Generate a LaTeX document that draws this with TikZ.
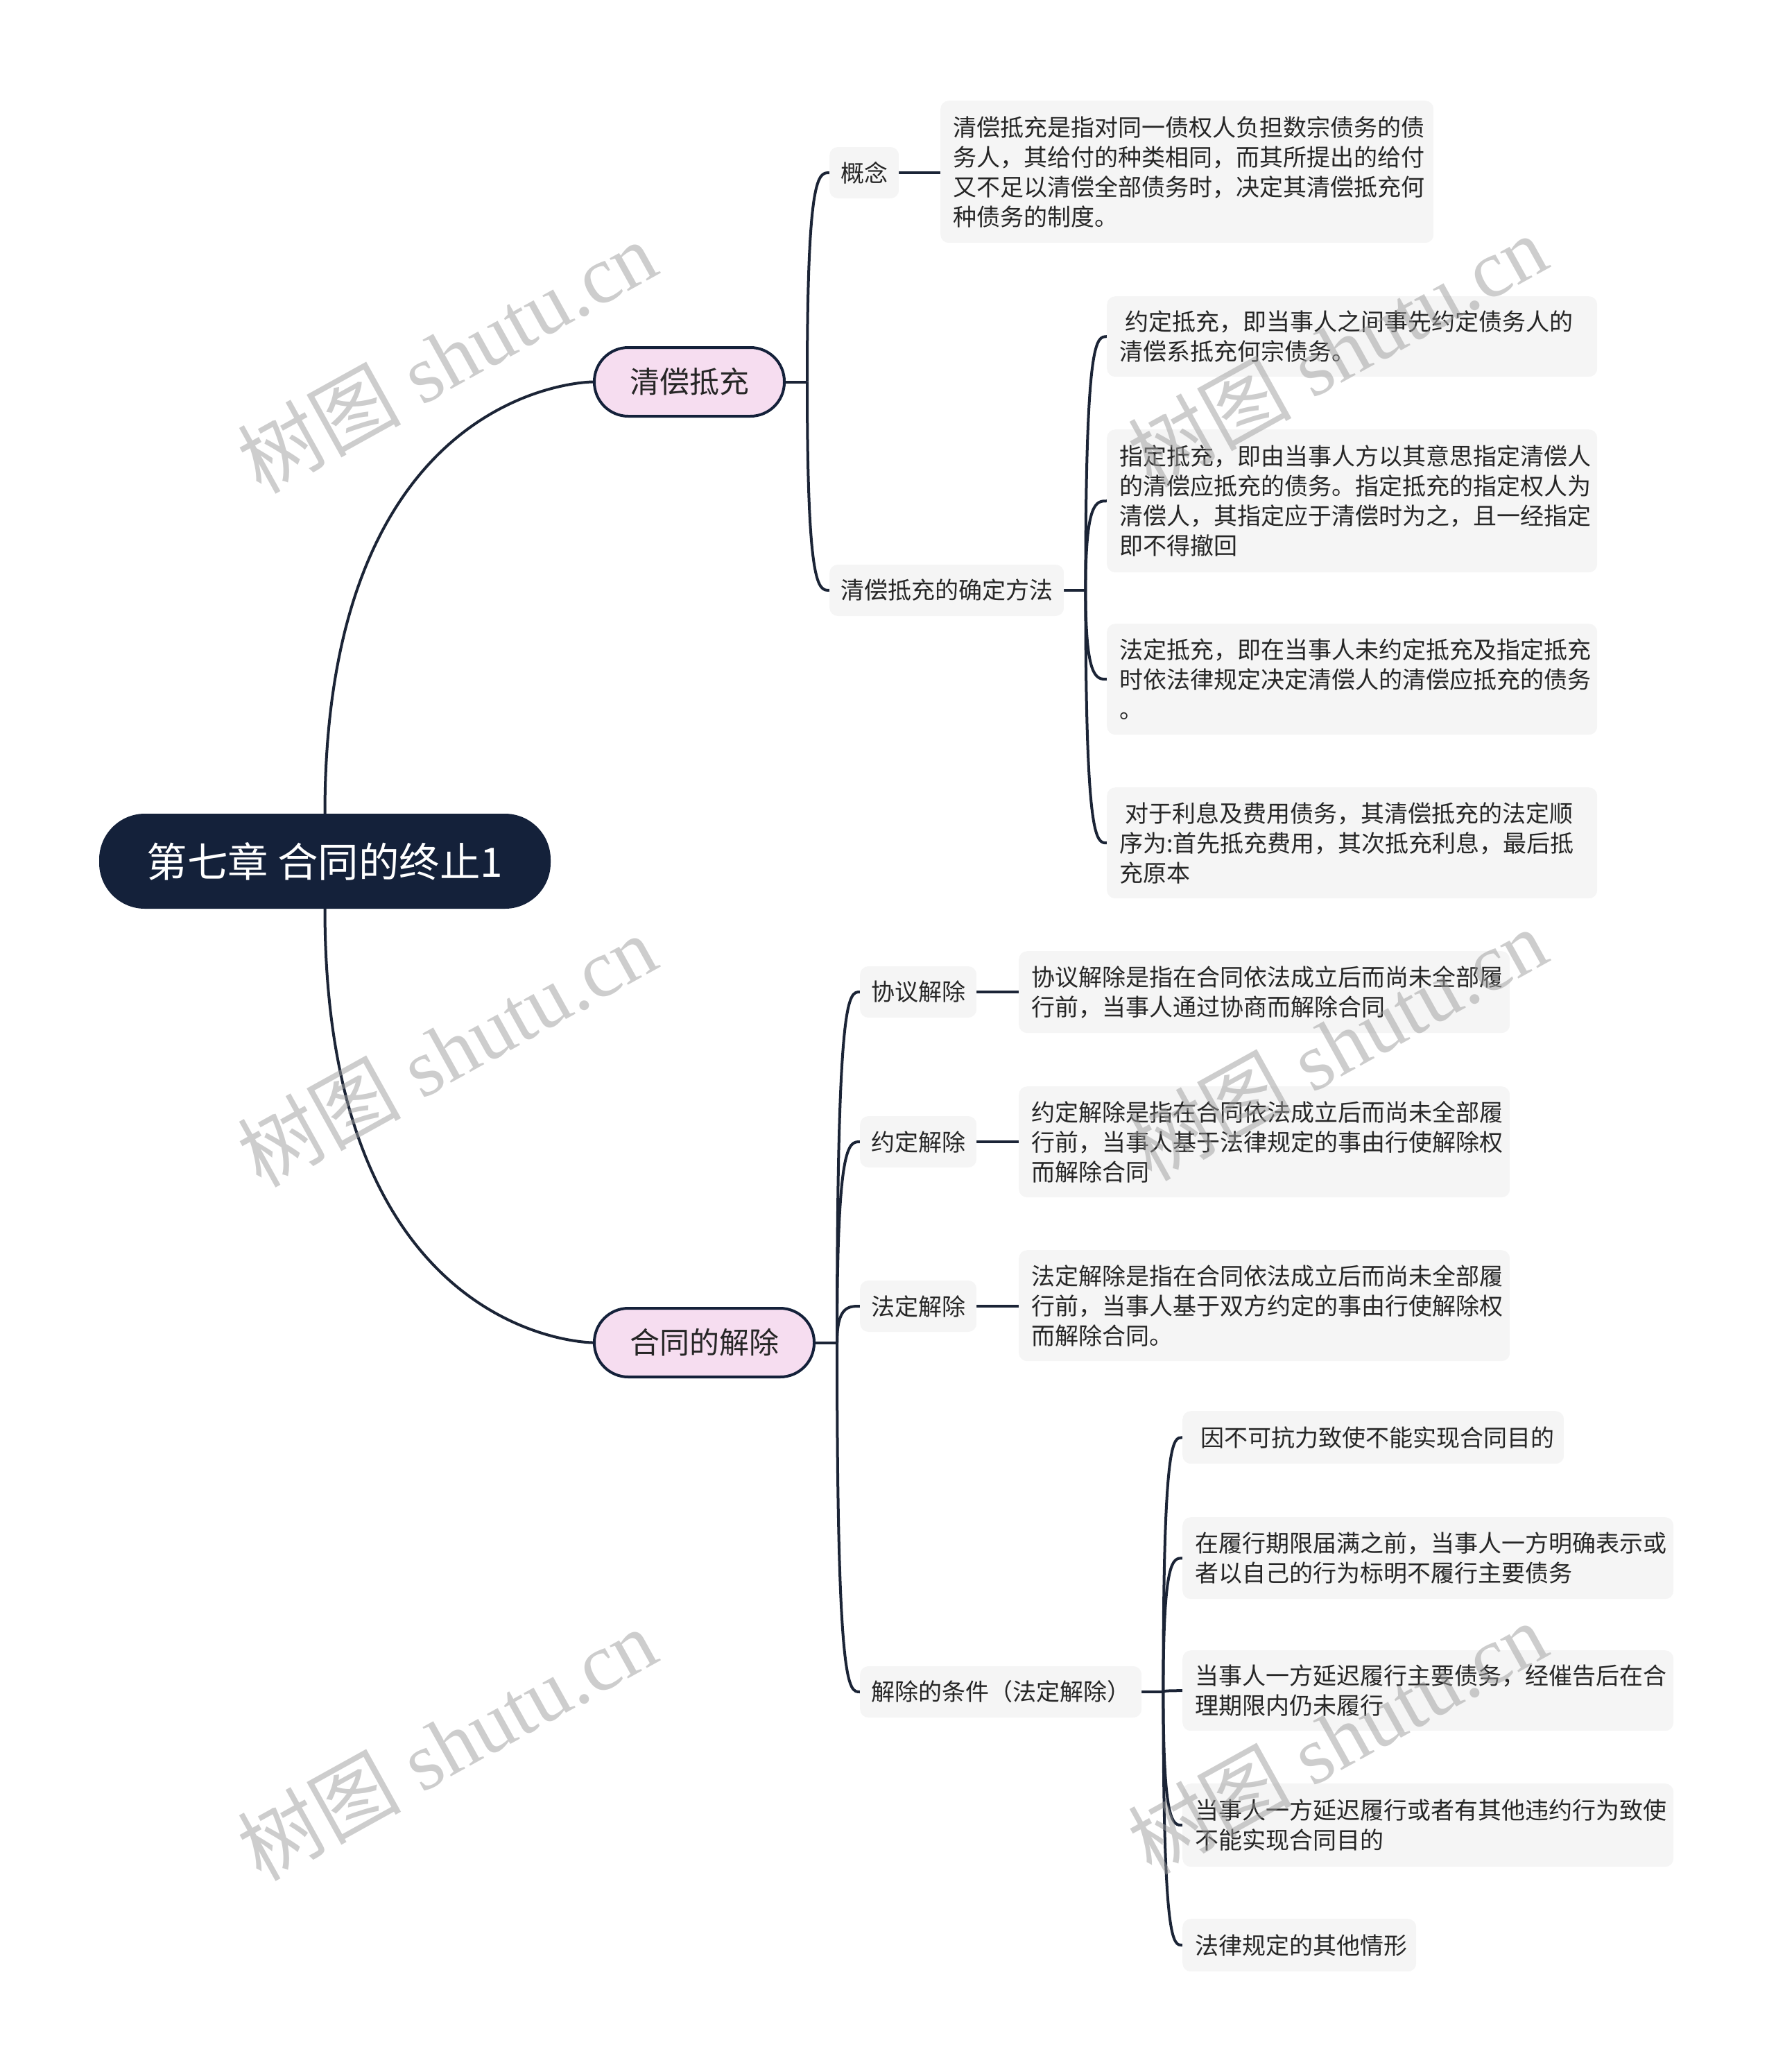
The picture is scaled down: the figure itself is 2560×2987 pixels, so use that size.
\documentclass[tikz,border=0pt]{standalone}
\usepackage{fontspec}
\setmainfont{Noto Sans CJK SC}
\newfontfamily\wmserif{Liberation Serif}
\newfontfamily\wmcjk{Noto Sans CJK SC}
\usetikzlibrary{calc}
\pgfdeclarelayer{bg}
\pgfdeclarelayer{fg}
\pgfsetlayers{bg,main,fg}
\definecolor{navy}{HTML}{14213A}
\definecolor{edgec}{HTML}{1B2436}
\definecolor{pinkf}{HTML}{F6DDF0}
\definecolor{boxf}{HTML}{F5F5F5}
\definecolor{txt}{HTML}{262626}
\definecolor{wmc}{HTML}{9C9C9C}
\newcommand\brch[2]{\draw[conn] (#1) .. controls (#1 |- #2.west) and ($(#1 |- #2.west)!0.5!(#2.west)$) .. (#2.west);}
\begin{document}
\begin{tikzpicture}[x=1pt,y=-1pt,
  rootnode/.style={fill=navy, text=white, rounded corners=66, minimum width=651, minimum height=137, inner sep=0, font=\fontsize{58.5}{70}\selectfont},
  lonenode/.style={fill=pinkf, draw=navy, line width=4, rounded corners=49, minimum height=99, inner xsep=51, inner ysep=0, text=txt, font=\fontsize{43}{52}\selectfont, anchor=west},
  ltwonode/.style={fill=boxf, rounded corners=12, minimum height=74, inner xsep=16, inner ysep=0, text=txt, font=\fontsize{34}{43}\selectfont, anchor=west},
  detnode/.style={fill=boxf, rounded corners=12, inner xsep=18, inner ysep=0, text=txt, font=\fontsize{34}{43}\selectfont, align=left, anchor=north west},
  conn/.style={draw=edgec, line width=4},
  wmnode/.style={text=wmc, opacity=0.5, rotate=29, inner sep=0, font=\fontsize{118}{130}\selectfont}
]
\useasboundingbox (0,0) rectangle (2560,2987);

% root
\node[rootnode] (root) at (468.5,1241.5) {第七章 合同的终止1};

% level 1
\node[lonenode] (qc) at (855,550.5) {清偿抵充};
\node[lonenode] (jc) at (855,1935.5) {合同的解除};

% level 2
\node[ltwonode] (gn) at (1196,249) {概念};
\node[ltwonode] (ff) at (1196,851) {清偿抵充的确定方法};
\node[ltwonode] (xy) at (1240,1430) {协议解除};
\node[ltwonode] (yd) at (1240,1646) {约定解除};
\node[ltwonode] (fd) at (1240,1883) {法定解除};
\node[ltwonode] (tj) at (1240,2439) {解除的条件（法定解除）};

% details
\node[detnode, text width=675, minimum height=205] (dgn) at (1356,145) {清偿抵充是指对同一债权人负担数宗债务的债\\务人，其给付的种类相同，而其所提出的给付\\又不足以清偿全部债务时，决定其清偿抵充何\\种债务的制度。};
\node[detnode, text width=671, minimum height=116] (df1) at (1596,427) {\hspace*{8pt}约定抵充，即当事人之间事先约定债务人的\\清偿系抵充何宗债务。};
\node[detnode, text width=671, minimum height=206] (df2) at (1596,619) {指定抵充，即由当事人方以其意思指定清偿人\\的清偿应抵充的债务。指定抵充的指定权人为\\清偿人，其指定应于清偿时为之，且一经指定\\即不得撤回};
\node[detnode, text width=671, minimum height=160] (df3) at (1596,899) {法定抵充，即在当事人未约定抵充及指定抵充\\时依法律规定决定清偿人的清偿应抵充的债务\\。};
\node[detnode, text width=671, minimum height=160] (df4) at (1596,1135) {\hspace*{8pt}对于利息及费用债务，其清偿抵充的法定顺\\序为:首先抵充费用，其次抵充利息，最后抵\\充原本};
\node[detnode, text width=672, minimum height=118] (dxy) at (1469,1371) {协议解除是指在合同依法成立后而尚未全部履\\行前，当事人通过协商而解除合同};
\node[detnode, text width=672, minimum height=160] (dyd) at (1469,1566) {约定解除是指在合同依法成立后而尚未全部履\\行前，当事人基于法律规定的事由行使解除权\\而解除合同};
\node[detnode, text width=672, minimum height=160] (dfd) at (1469,1802) {法定解除是指在合同依法成立后而尚未全部履\\行前，当事人基于双方约定的事由行使解除权\\而解除合同。};
\node[detnode, text width=514, minimum height=76] (c1) at (1705,2034) {\hspace*{8pt}因不可抗力致使不能实现合同目的};
\node[detnode, text width=672, minimum height=118] (c2) at (1705,2187) {在履行期限届满之前，当事人一方明确表示或\\者以自己的行为标明不履行主要债务};
\node[detnode, text width=672, minimum height=116] (c3) at (1705,2379) {当事人一方延迟履行主要债务，经催告后在合\\理期限内仍未履行};
\node[detnode, text width=672, minimum height=120] (c4) at (1705,2571) {当事人一方延迟履行或者有其他违约行为致使\\不能实现合同目的};
\node[detnode, text width=301, minimum height=76] (c5) at (1705,2766) {法律规定的其他情形};

% connectors
\begin{pgfonlayer}{bg}
\draw[conn] (root.north) .. controls (root.north |- qc.west) and (qc.west) .. (qc.west);
\draw[conn] (root.south) .. controls (root.south |- jc.west) and (jc.west) .. (jc.west);
\coordinate (qj) at ($(qc.east)+(31,0)$);
\draw[conn] (qc.east) -- (qj);
\brch{qj}{gn}
\brch{qj}{ff}
\draw[conn] (gn.east) -- (gn.east -| dgn.west);
\coordinate (fj) at ($(ff.east)+(31,0)$);
\draw[conn] (ff.east) -- (fj);
\brch{fj}{df1}
\brch{fj}{df2}
\brch{fj}{df3}
\brch{fj}{df4}
\coordinate (jj) at ($(jc.east)+(31,0)$);
\draw[conn] (jc.east) -- (jj);
\brch{jj}{xy}
\brch{jj}{yd}
\brch{jj}{fd}
\brch{jj}{tj}
\draw[conn] (xy.east) -- (xy.east -| dxy.west);
\draw[conn] (yd.east) -- (yd.east -| dyd.west);
\draw[conn] (fd.east) -- (fd.east -| dfd.west);
\coordinate (tjj) at ($(tj.east)+(31,0)$);
\draw[conn] (tj.east) -- (tjj);
\brch{tjj}{c1}
\brch{tjj}{c2}
\brch{tjj}{c3}
\brch{tjj}{c4}
\brch{tjj}{c5}
\end{pgfonlayer}

% watermarks
\begin{pgfonlayer}{fg}
\node[wmnode] (wa) at (644,514) {\wmcjk 树图\wmserif{} shutu.cn};
\node[wmnode] (wb) at (644,1514) {\wmcjk 树图\wmserif{} shutu.cn};
\node[wmnode] (wc) at (644,2514) {\wmcjk 树图\wmserif{} shutu.cn};
\node[wmnode] (wd) at (1928,505) {\wmcjk 树图\wmserif{} shutu.cn};
\node[wmnode] (we) at (1928,1505) {\wmcjk 树图\wmserif{} shutu.cn};
\node[wmnode] (wf) at (1928,2505) {\wmcjk 树图\wmserif{} shutu.cn};
\end{pgfonlayer}
\end{tikzpicture}
\end{document}
